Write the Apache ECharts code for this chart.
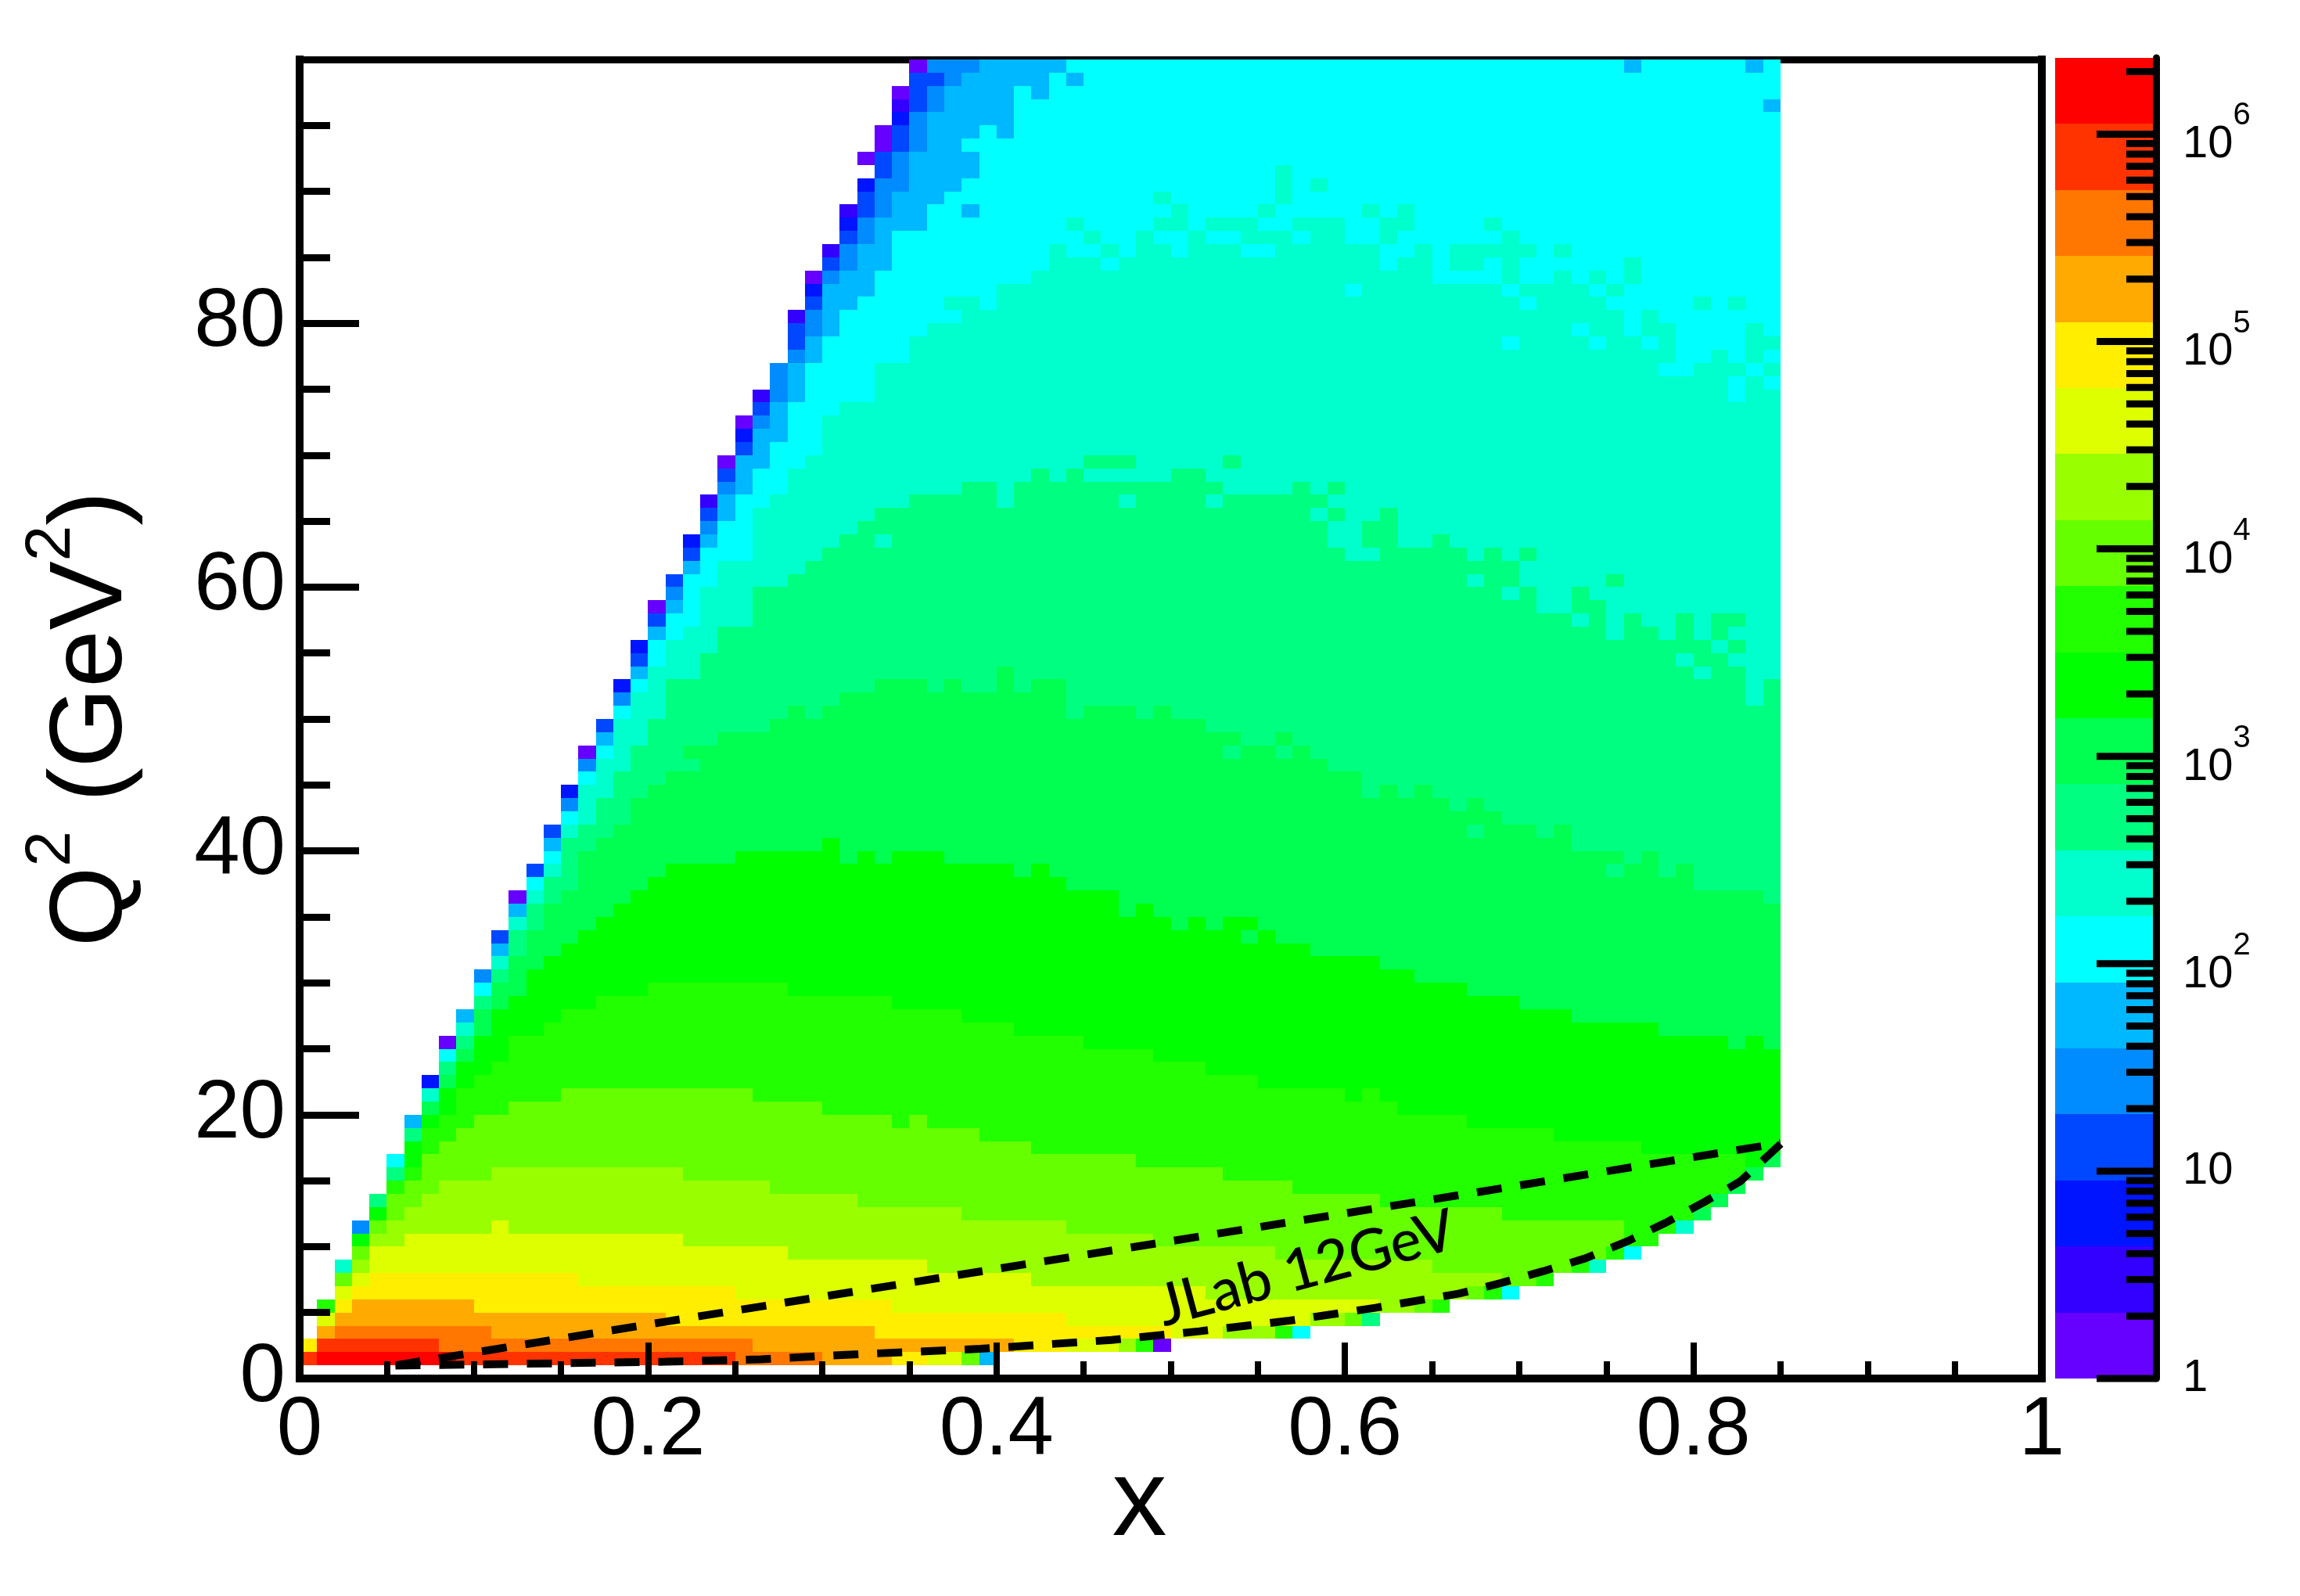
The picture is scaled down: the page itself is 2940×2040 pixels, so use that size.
<!DOCTYPE html>
<html>
<head>
<meta charset="utf-8">
<title>x - Q2 coverage</title>
<style>
  html, body { margin: 0; padding: 0; background: #fff; }
  #main { width: 2940px; height: 2040px; }
</style>
<script src="https://cdn.jsdelivr.net/npm/echarts@6/dist/echarts.min.js"></script>
</head>
<body>
<div id="main"></div>
<script>
// colour bands of the palette, lowest first (band 0 = 1 count, band 19 = top)
const bandColors = ['#6600ff','#3300ff','#0014ff','#0048ff','#008cff','#00b8ff','#00ffff','#00ffcc','#00ff80','#00ff50',
  '#00ff00','#22ff00','#66ff00','#99ff00','#ddff00','#ffee00','#ffaa00','#ff7700','#ff3300','#ff0000'];
const barMaxValue = 2.33e6;
const barDecades = [0, 1, 2, 3, 4, 5, 6];
const barMinorSteps = [2, 3, 4, 5, 6, 7, 8, 9];
const xLabels = [0, 0.2, 0.4, 0.6, 0.8, 1];
const yLabels = [0, 20, 40, 60, 80];

// the dashed JLab 12 GeV region, [x, Q2]
const upperEdge = [[0.055, 1.0], [0.21, 4.31], [0.6655, 13.9], [0.85, 17.85]];
const lowerEdge = [[0.055, 0.98], [0.21, 1.27], [0.2647, 1.46], [0.322, 1.85], [0.3907, 2.25], [0.466, 2.92], [0.5164, 3.58],
  [0.5672, 4.37], [0.6175, 5.36], [0.6656, 6.44], [0.6896, 7.24], [0.7137, 8.13], [0.738, 9.11], [0.762, 10.4],
  [0.784, 11.8], [0.8065, 13.4], [0.827, 14.95], [0.851, 17.9]];

// one line per Q2 row (1 GeV2 wide): pairs of start column (0.01 wide) and colour band, -1 = empty
const q1 = [0,18, 1,19, 9,18, 25,17, 30,16, 34,15, 36,14, 38,12, 39,5, 40,-1];
const q2 = [0,15, 1,18, 8,17, 26,16, 41,15, 44,14, 47,13, 48,11, 49,0, 50,-1];
const q3 = [1,16, 2,17, 11,16, 33,15, 50,14, 53,13, 56,11, 57,6, 58,-1];
const q4 = [1,14, 2,16, 21,15, 44,14, 58,13, 60,12, 61,8, 62,-1];
const q5 = [1,11, 2,15, 3,16, 10,15, 34,14, 62,13, 64,12, 65,11, 66,-1];
const q6 = [2,14, 3,15, 25,14, 52,13, 67,12, 68,11, 69,6, 70,-1];
const q7 = [2,12, 3,14, 4,15, 16,14, 42,13, 69,12, 71,11, 72,-1];
const q8 = [2,7, 3,13, 4,14, 36,13, 65,12, 73,11, 74,7, 75,-1];
const q9 = [3,12, 4,14, 28,13, 56,12, 75,11, 76,6, 77,-1];
const q10 = [3,10, 4,13, 6,14, 22,13, 49,12, 76,11, 78,-1];
const q11 = [3,4, 4,12, 5,13, 11,14, 12,13, 44,12, 76,11, 79,7, 80,-1];
const q12 = [4,10, 5,12, 6,13, 38,12, 69,11, 80,9, 81,-1];
const q13 = [4,8, 5,12, 7,13, 32,12, 62,11, 81,9, 82,-1];
const q14 = [5,11, 6,12, 8,13, 27,12, 57,11, 82,9, 83,-1];
const q15 = [5,8, 6,11, 7,12, 11,13, 22,12, 53,11, 83,9, 84,-1];
const q16 = [5,6, 6,10, 7,12, 48,11, 83,10, 84,9];
const q17 = [6,10, 7,11, 8,12, 42,11, 77,10];
const q18 = [6,8, 7,11, 9,12, 39,11, 72,10];
const q19 = [6,5, 7,10, 8,11, 10,12, 34,11, 35,12, 36,11, 67,10];
const q20 = [7,9, 8,10, 9,11, 12,12, 30,11, 63,10];
const q21 = [7,7, 8,10, 9,11, 15,12, 26,11, 60,10, 61,11, 62,10];
const q22 = [7,2, 8,9, 9,10, 10,11, 55,10];
const q23 = [8,8, 9,10, 11,11, 52,10];
const q24 = [8,6, 9,9, 10,10, 12,11, 49,10];
const q25 = [8,0, 9,8, 10,10, 12,11, 45,10, 82,9, 83,10, 84,9];
const q26 = [9,7, 10,9, 11,10, 14,11, 41,10, 78,9];
const q27 = [9,5, 10,9, 11,10, 15,11, 38,10, 73,9];
const q28 = [10,8, 11,9, 12,10, 17,11, 34,10, 70,9];
const q29 = [10,6, 11,9, 13,10, 20,11, 28,10, 67,9];
const q30 = [10,4, 11,8, 12,9, 13,10, 64,9];
const q31 = [11,7, 12,9, 14,10, 62,9];
const q32 = [11,5, 12,8, 13,9, 15,10, 58,9];
const q33 = [11,3, 12,8, 13,9, 16,10, 54,9, 55,10, 56,9];
const q34 = [12,7, 13,8, 14,9, 17,10, 50,9, 51,10, 52,9, 53,10, 55,9];
const q35 = [12,5, 13,8, 14,9, 18,10, 47,9, 48,10, 49,9];
const q36 = [12,0, 13,7, 14,8, 15,9, 19,10, 47,9, 84,8];
const q37 = [13,6, 14,8, 16,9, 20,10, 44,9, 80,8];
const q38 = [13,3, 14,7, 15,8, 16,9, 21,10, 41,9, 42,10, 43,9, 75,8, 76,9, 78,8, 79,9, 80,8];
const q39 = [14,6, 15,8, 16,9, 25,10, 31,9, 32,10, 33,9, 34,10, 37,9, 76,8, 77,9, 78,8];
const q40 = [14,5, 15,8, 17,9, 30,10, 31,9, 73,8];
const q41 = [14,3, 15,7, 16,8, 18,9, 67,8, 68,9, 71,8, 72,9, 73,8];
const q42 = [15,6, 16,7, 17,8, 19,9, 69,8];
const q43 = [15,4, 16,7, 17,8, 19,9, 66,8, 67,9, 68,8];
const q44 = [15,2, 16,7, 18,8, 20,9, 61,8, 62,9, 63,8, 64,9, 65,8];
const q45 = [16,6, 17,7, 18,8, 21,9, 61,8];
const q46 = [16,4, 17,7, 19,8, 23,9, 59,8];
const q47 = [16,0, 17,6, 18,7, 19,8, 22,9, 53,8, 54,9, 56,8, 57,9, 58,8];
const q48 = [17,5, 18,7, 20,8, 24,9, 54,8, 56,9, 57,8];
const q49 = [17,3, 18,7, 20,8, 27,9, 52,8];
const q50 = [18,6, 19,7, 21,8, 28,9, 29,8, 30,9, 44,8, 45,9, 48,8, 49,9, 50,8];
const q51 = [18,4, 19,7, 21,8, 31,9, 44,8, 83,7, 84,8];
const q52 = [18,2, 19,6, 20,7, 21,8, 33,9, 36,8, 37,9, 38,8, 40,9, 41,8, 42,9, 44,8, 83,7, 84,8];
const q53 = [19,5, 20,7, 23,8, 40,9, 41,8, 80,7, 81,8, 83,7];
const q54 = [19,3, 20,6, 21,7, 23,8, 79,7, 80,8, 82,7];
const q55 = [19,2, 20,6, 21,7, 24,8, 81,7, 82,8, 83,7];
const q56 = [20,5, 21,6, 22,7, 24,8, 75,7, 76,8, 78,7, 79,8, 80,7, 81,8, 82,7];
const q57 = [20,3, 21,6, 23,7, 26,8, 73,7, 74,8, 75,7, 76,8, 77,7, 79,8, 80,7, 81,8, 83,7];
const q58 = [20,0, 21,5, 22,6, 23,7, 26,8, 71,7, 73,8, 75,7];
const q59 = [21,4, 22,6, 23,7, 26,8, 69,7, 70,8, 71,7, 73,8, 74,7];
const q60 = [21,3, 22,6, 24,7, 28,8, 67,7, 68,8, 70,7, 75,8, 76,7];
const q61 = [22,5, 23,6, 24,7, 29,8, 70,7];
const q62 = [22,3, 23,6, 26,7, 30,8, 60,7, 62,8, 67,7, 68,8, 69,7, 70,8, 71,7];
const q63 = [22,2, 23,5, 24,6, 26,7, 31,8, 33,7, 34,8, 59,7, 61,8, 63,7, 65,8, 66,7];
const q64 = [23,4, 24,6, 26,7, 32,8, 59,7, 61,8, 63,7];
const q65 = [23,3, 24,5, 25,6, 26,7, 33,8, 58,7, 59,8, 60,7, 62,8, 63,7];
const q66 = [23,1, 24,5, 25,6, 27,7, 35,8, 40,7, 41,8, 47,7, 48,8, 52,7, 53,8, 59,7];
const q67 = [24,4, 25,5, 26,6, 28,7, 38,8, 40,7, 41,8, 53,7, 57,8, 58,7, 59,8, 60,7];
const q68 = [24,3, 25,5, 26,6, 28,7, 42,8, 43,7, 44,8, 45,7, 50,8, 52,7];
const q69 = [24,0, 25,5, 27,6, 29,7, 45,8, 48,7, 53,8, 54,7];
const q70 = [25,3, 26,5, 27,6, 30,7];
const q71 = [25,2, 26,5, 28,6, 30,7];
const q72 = [25,0, 26,4, 27,5, 28,6, 30,7];
const q73 = [26,3, 27,5, 28,6, 31,7];
const q74 = [26,1, 27,4, 28,5, 29,6, 33,7, 82,6, 83,7];
const q75 = [27,4, 28,5, 29,6, 33,7, 82,6, 83,7, 84,6];
const q76 = [27,4, 28,5, 29,6, 33,7, 78,6, 80,7, 83,6, 84,7];
const q77 = [28,4, 29,5, 30,6, 35,7, 79,6, 81,7, 82,6, 83,7, 84,6];
const q78 = [28,3, 29,5, 30,6, 35,7, 69,6, 70,7, 74,6, 75,7, 77,6, 78,7, 79,6, 83,7];
const q79 = [28,3, 29,4, 30,5, 31,6, 36,7, 73,6, 74,7, 76,6, 77,7, 79,6, 83,7, 84,6];
const q80 = [28,1, 29,4, 30,5, 31,6, 38,7, 76,6, 77,7, 78,6];
const q81 = [29,3, 30,5, 32,6, 37,7, 39,6, 40,7, 70,6, 71,7, 75,6, 80,7, 81,6, 82,7, 83,6];
const q82 = [29,2, 30,5, 33,6, 40,7, 60,6, 61,7, 69,6, 70,7, 74,6, 75,7, 76,6];
const q83 = [29,0, 30,4, 31,5, 33,6, 42,7, 65,6, 69,7, 70,6, 72,7, 73,6, 74,7, 75,6, 76,7, 77,6];
const q84 = [30,3, 31,4, 32,5, 34,6, 43,7, 46,6, 47,7, 62,6, 63,7, 65,6, 66,7, 68,6, 69,7, 70,6, 76,7, 77,6];
const q85 = [30,1, 31,4, 32,5, 34,6, 43,7, 44,6, 46,7, 47,6, 48,7, 50,6, 51,7, 54,6, 56,7, 62,6, 64,7, 65,6, 66,7, 71,6, 72,7, 73,6];
const q86 = [31,3, 32,4, 33,5, 34,6, 45,7, 46,6, 48,7, 49,6, 51,7, 52,6, 54,7, 57,6, 58,7, 60,6, 62,7, 63,6, 69,7, 70,6];
const q87 = [31,2, 32,4, 33,5, 36,6, 44,7, 45,6, 49,7, 51,6, 52,7, 55,6, 57,7, 60,6, 62,7, 64,6, 68,7, 69,6];
const q88 = [31,1, 32,3, 33,4, 34,5, 36,6, 38,5, 39,6, 50,7, 51,6, 55,7, 56,6, 61,7, 62,6, 63,7, 64,6];
const q89 = [32,3, 33,4, 34,5, 37,6, 49,7, 50,6, 56,7, 57,6];
const q90 = [32,2, 33,4, 35,5, 38,6, 56,7, 57,6, 58,7, 59,6];
const q91 = [33,3, 34,4, 35,5, 39,6, 56,7, 57,6];
const q92 = [32,0, 33,3, 34,4, 35,5, 39,6];
const q93 = [33,0, 34,3, 35,4, 36,5, 38,6];
const q94 = [33,0, 34,3, 35,4, 36,5, 39,6, 40,5, 41,6];
const q95 = [34,2, 35,4, 36,5, 41,6];
const q96 = [34,1, 35,3, 36,4, 37,5, 41,6, 84,5];
const q97 = [34,0, 35,3, 36,4, 37,5, 41,6, 42,5, 43,6];
const q98 = [35,3, 37,4, 38,5, 43,6, 44,5, 45,6];
const q99 = [35,0, 36,4, 39,5, 44,6, 76,5, 77,6, 83,5, 84,6];

const qRows = [q1,q2,q3,q4,q5,q6,q7,q8,q9,q10,q11,q12,q13,q14,q15,q16,q17,q18,q19,q20,
  q21,q22,q23,q24,q25,q26,q27,q28,q29,q30,q31,q32,q33,q34,q35,q36,q37,q38,q39,q40,
  q41,q42,q43,q44,q45,q46,q47,q48,q49,q50,q51,q52,q53,q54,q55,q56,q57,q58,q59,q60,
  q61,q62,q63,q64,q65,q66,q67,q68,q69,q70,q71,q72,q73,q74,q75,q76,q77,q78,q79,q80,
  q81,q82,q83,q84,q85,q86,q87,q88,q89,q90,q91,q92,q93,q94,q95,q96,q97,q98,q99];

const fontName = '"Liberation Sans", Arial, sans-serif';

let heatRuns = [];
qRows.forEach((runs, i) => {
  for (let j = 0; j < runs.length; j += 2) {
    if (runs[j + 1] < 0) continue;
    let end = j + 2 < runs.length ? runs[j + 2] : 85;
    heatRuns.push([runs[j] / 100, end / 100, i + 1, runs[j + 1]]);
  }
});

// colour bar works in log10(count)
const barTop = Math.log10(barMaxValue);
let barBands = bandColors.map((c, k) => [k * barTop / 20, (k + 1) * barTop / 20, k]);
let barTicks = [];
barDecades.forEach(d => {
  barTicks.push([d, 1]);
  barMinorSteps.forEach(m => {
    let v = d + Math.log10(m);
    if (v < barTop) barTicks.push([v, 0]);
  });
});

function roundRect(p0, p1) {
  let x0 = Math.round(p0[0]), x1 = Math.round(p1[0]);
  let y0 = Math.round(p0[1]), y1 = Math.round(p1[1]);
  return { x: x0, y: Math.min(y0, y1), width: x1 - x0, height: Math.abs(y1 - y0) };
}

const option = {
  backgroundColor: '#fff',
  animation: false,
  grid: [
    // outerBoundsMode none: v6 would otherwise shrink the grid to pull the big axis title inside
    { left: 383, top: 76, width: 2227, height: 1686, containLabel: false, outerBoundsMode: 'none' },
    { left: 2627, top: 74, width: 129, height: 1688, containLabel: false, outerBoundsMode: 'none' }
  ],
  xAxis: [
    {
      type: 'value', gridIndex: 0, min: 0, max: 1, interval: 0.2, z: 3,
      name: 'x', nameLocation: 'middle', nameGap: 91, nameMoveOverlap: false,
      nameTextStyle: { fontFamily: fontName, fontSize: 140, color: '#000', padding: [0, 80, 0, 0] },
      axisLine: { onZero: false, lineStyle: { color: '#000', width: 10, cap: 'square' } },
      axisTick: { inside: true, length: 46, lineStyle: { color: '#000', width: 8 }, customValues: [0.2, 0.4, 0.6, 0.8] },
      minorTick: { show: true, splitNumber: 4, length: 22, lineStyle: { color: '#000', width: 8 } },
      axisLabel: { fontFamily: fontName, fontSize: 105, color: '#000', margin: 16, customValues: xLabels, hideOverlap: false },
      splitLine: { show: false }
    },
    {
      type: 'value', gridIndex: 0, min: 0, max: 1, position: 'top', z: 1,
      axisLine: { onZero: false, lineStyle: { color: '#000', width: 9, cap: 'square' } },
      axisTick: { show: false }, axisLabel: { show: false }, splitLine: { show: false }
    },
    { type: 'value', gridIndex: 1, min: 0, max: 1, show: false }
  ],
  yAxis: [
    {
      type: 'value', gridIndex: 0, min: 0, max: 100, interval: 20, z: 3,
      name: '{t|Q}{s|2}{t| (GeV}{s|2}{t|)}', nameLocation: 'middle', nameGap: 198, nameRotate: 90, nameMoveOverlap: false,
      nameTextStyle: {
        fontFamily: fontName, color: '#000',
        rich: {
          t: { fontFamily: fontName, fontSize: 132, lineHeight: 160, color: '#000', verticalAlign: 'bottom' },
          s: { fontFamily: fontName, fontSize: 82, color: '#000', verticalAlign: 'top' }
        }
      },
      axisLine: { onZero: false, lineStyle: { color: '#000', width: 10, cap: 'square' } },
      axisTick: { inside: true, length: 76, lineStyle: { color: '#000', width: 9 }, customValues: [20, 40, 60, 80] },
      minorTick: { show: true, splitNumber: 4, length: 39, lineStyle: { color: '#000', width: 9 } },
      axisLabel: { fontFamily: fontName, fontSize: 105, color: '#000', margin: 18, customValues: yLabels, hideOverlap: false },
      splitLine: { show: false }
    },
    {
      type: 'value', gridIndex: 0, min: 0, max: 100, position: 'right', z: 1,
      axisLine: { onZero: false, lineStyle: { color: '#000', width: 10, cap: 'square' } },
      axisTick: { show: false }, axisLabel: { show: false }, splitLine: { show: false }
    },
    {
      type: 'value', gridIndex: 1, min: 0, max: barTop, position: 'right', z: 4,
      axisLine: { onZero: false, lineStyle: { color: '#000', width: 9 } },
      axisTick: { show: false }, splitLine: { show: false },
      axisLabel: {
        margin: 34, customValues: barDecades, hideOverlap: false, align: 'left',
        formatter: function (v) {
          if (v === 0) return '{p|1}';
          if (v === 1) return '{p|10}';
          return '{b|10}{s|' + v + '}';
        },
        rich: {
          p: { fontFamily: fontName, fontSize: 58, color: '#000' },
          b: { fontFamily: fontName, fontSize: 58, lineHeight: 86, color: '#000', verticalAlign: 'bottom' },
          s: { fontFamily: fontName, fontSize: 40, color: '#000', verticalAlign: 'top' }
        }
      }
    }
  ],
  graphic: [
    {
      type: 'text', x: 1670, y: 1622, rotation: 15 * Math.PI / 180, z: 20,
      style: {
        text: 'JLab 12GeV', fontFamily: 'Lato, "Noto Sans", sans-serif', fontSize: 74, fontWeight: 500,
        fill: '#000', align: 'center', verticalAlign: 'middle'
      }
    }
  ],
  series: [
    {
      type: 'custom', xAxisIndex: 0, yAxisIndex: 0, z: 2, silent: true,
      data: heatRuns,
      encode: { x: [0, 1], y: 2 },
      renderItem: function (params, api) {
        let r = api.value(2);
        return {
          type: 'rect',
          shape: roundRect(api.coord([api.value(0), r]), api.coord([api.value(1), r + 1])),
          style: { fill: bandColors[api.value(3)] }
        };
      }
    },
    {
      type: 'line', xAxisIndex: 0, yAxisIndex: 0, z: 5, silent: true, showSymbol: false, symbol: 'none',
      data: upperEdge, lineStyle: { color: '#000', width: 10, type: [32, 24] }
    },
    {
      type: 'line', xAxisIndex: 0, yAxisIndex: 0, z: 5, silent: true, showSymbol: false, symbol: 'none',
      data: lowerEdge, lineStyle: { color: '#000', width: 10, type: [32, 24] }
    },
    {
      type: 'custom', xAxisIndex: 2, yAxisIndex: 2, z: 2, silent: true,
      data: barBands,
      encode: { y: [0, 1] },
      renderItem: function (params, api) {
        let p0 = api.coord([0, api.value(0)]);
        let p1 = api.coord([1, api.value(1)]);
        return {
          type: 'rect',
          shape: roundRect(p0, p1),
          style: { fill: bandColors[api.value(2)] }
        };
      }
    },
    {
      type: 'custom', xAxisIndex: 2, yAxisIndex: 2, z: 3, silent: true,
      data: barTicks,
      encode: { y: 0 },
      renderItem: function (params, api) {
        let p = api.coord([1, api.value(0)]);
        let len = api.value(1) ? 76 : 38;
        return {
          type: 'rect',
          shape: { x: p[0] - len, y: p[1] - 4.5, width: len, height: 9 },
          style: { fill: '#000' }
        };
      }
    }
  ]
};

const chart = echarts.init(document.getElementById('main'));
chart.setOption(option);
</script>
</body>
</html>
